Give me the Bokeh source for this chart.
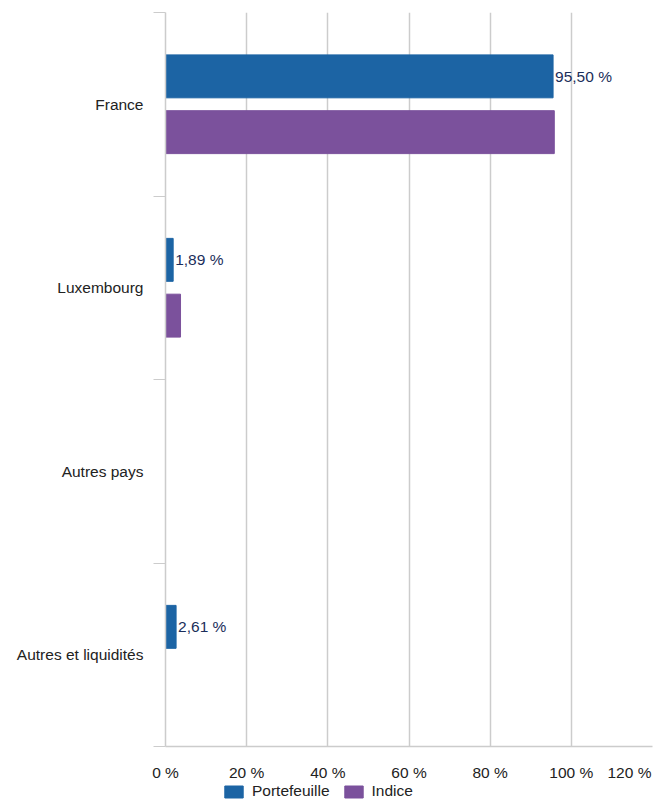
from bokeh.plotting import figure
from bokeh.layouts import column
from bokeh.models import Range1d, FixedTicker, ColumnDataSource, Legend, LegendItem
from bokeh.core.properties import value
from bokeh.embed import file_html
from bokeh.resources import INLINE

categories = ["France", "Luxembourg", "Autres pays", "Autres et liquidités"]
portefeuille = [95.50, 1.89, 0.0, 2.61]
indice = [95.8, 3.7, 0.0, 0.0]
series_names = ["Portefeuille", "Indice"]
x_ticks = [0, 20, 40, 60, 80, 100, 120]
x_tick_labels = ["0 %", "20 %", "40 %", "60 %", "80 %", "100 %", "120 %"]

FONT = "Liberation Sans"
FS = "15.5px"
FRAME_W = 487
COLORS = ["#1c64a4", "#7b519c"]
n = len(categories)
centers = [n - 0.5 - i for i in range(n)]
off = 0.152
bh = 0.234

src_p = ColumnDataSource(dict(y=[c + off for c in centers], x=portefeuille,
                              lab=[("%.2f %%" % v).replace(".", ",") if v > 0 else "" for v in portefeuille]))
src_i = ColumnDataSource(dict(y=[c - off for c in centers], x=indice))

p = figure(frame_width=FRAME_W, frame_height=734, output_backend="svg", toolbar_location=None,
           x_range=Range1d(0, 120), y_range=Range1d(0, n),
           min_border_left=165, min_border_right=5, min_border_top=12, min_border_bottom=0)
p.outline_line_color = None

r1 = p.hbar(y="y", right="x", left=0, height=bh, source=src_p, fill_color=COLORS[0], line_color=COLORS[0])
r2 = p.hbar(y="y", right="x", left=0, height=bh, source=src_i, fill_color=COLORS[1], line_color=COLORS[1])

p.text(x="x", y="y", text="lab", source=src_p, x_offset=2, text_baseline="middle", text_align="left",
       text_font=value(FONT), text_font_size=FS, text_color="#1b2e5a")

# x axis: last label is pulled inward so that it stays inside the canvas (as in the reference)
x_max = x_ticks[-1]
label_pos = list(x_ticks)
label_pos[-1] = round(x_max - 23 * x_max / FRAME_W, 2)
p.xaxis.ticker = FixedTicker(ticks=label_pos)
p.xaxis.major_label_overrides = {t: l for t, l in zip(label_pos, x_tick_labels)}
p.xaxis.major_tick_line_color = None
p.xaxis.major_tick_out = 0
p.xaxis.major_tick_in = 0
p.xaxis.minor_tick_line_color = None
p.xaxis.axis_line_color = "#cccccc"
p.xaxis.axis_line_width = 1.5
p.xaxis.major_label_text_font = FONT
p.xaxis.major_label_text_font_size = FS
p.xaxis.major_label_text_color = "#222222"
p.xaxis.major_label_standoff = 17
p.xgrid.ticker = FixedTicker(ticks=x_ticks)
p.xgrid.grid_line_color = "#cccccc"
p.xgrid.grid_line_width = 1.5
p.ygrid.grid_line_color = None

# y axis
p.yaxis.ticker = FixedTicker(ticks=centers, minor_ticks=list(range(n + 1)))
p.yaxis.major_label_overrides = {c: cat for c, cat in zip(centers, categories)}
p.yaxis.major_tick_line_color = None
p.yaxis.major_tick_out = 0
p.yaxis.major_tick_in = 0
p.yaxis.minor_tick_line_color = "#cccccc"
p.yaxis.minor_tick_out = 12
p.yaxis.minor_tick_in = 0
p.yaxis.axis_line_color = "#cccccc"
p.yaxis.axis_line_width = 1.5
p.yaxis.major_label_text_font = FONT
p.yaxis.major_label_text_font_size = FS
p.yaxis.major_label_text_color = "#222222"
p.yaxis.major_label_standoff = 10

# legend in a thin strip below the chart (swatch renderers sit outside the visible range)
leg = figure(width=657, height=22, output_backend="svg", toolbar_location=None,
             x_range=Range1d(0, 1), y_range=Range1d(0, 1), min_border=0)
leg.axis.visible = False
leg.grid.visible = False
leg.outline_line_color = None
swatch = ColumnDataSource(dict(y=[-5], x=[0]))
lr = [leg.hbar(y="y", right="x", left=0, height=0.5, source=swatch, fill_color=c, line_color=c) for c in COLORS]
legend = Legend(items=[LegendItem(label=s, renderers=[r], index=0) for s, r in zip(series_names, lr)],
                orientation="horizontal", location=(57, 5),
                label_text_font=FONT, label_text_font_size=FS, label_text_color="#222222",
                glyph_width=23, glyph_height=15, label_standoff=7, spacing=12,
                label_height=15, border_line_color=None, background_fill_alpha=0, padding=0, margin=0)
leg.add_layout(legend)

open("out.html", "w").write(file_html(column(p, leg, spacing=0), INLINE))
